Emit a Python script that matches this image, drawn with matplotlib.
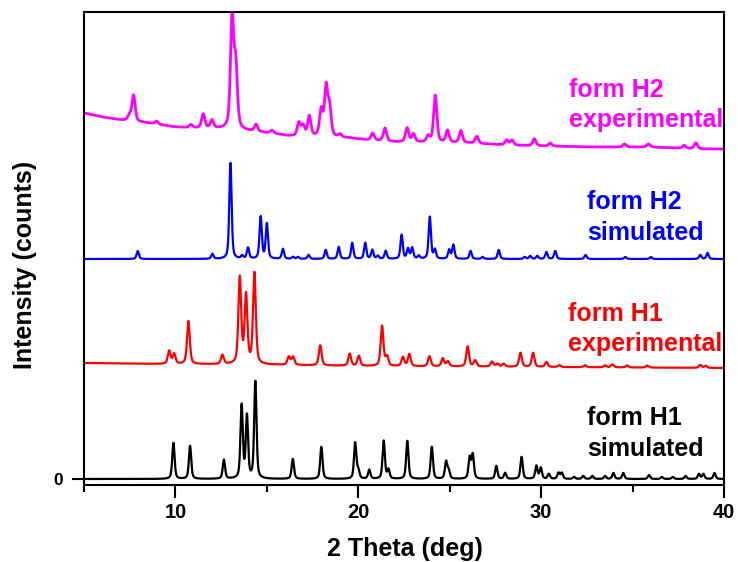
import numpy as np
import matplotlib.pyplot as plt
from matplotlib.ticker import MultipleLocator

plt.rcParams['font.family'] = ['Liberation Sans', 'DejaVu Sans']
plt.rcParams['font.weight'] = 'bold'

# peak lists: 2theta (deg) and height above the baseline
h1_sim_pos = [9.89, 10.80, 12.65, 13.62, 13.91, 14.37, 16.42, 17.98, 19.83, 20.00,
              20.60, 21.39, 21.65, 22.68, 24.02, 24.80, 24.94, 26.09, 26.26, 27.55,
              28.03, 28.93, 29.74, 29.98, 30.42, 30.95, 31.13, 31.80, 32.30, 32.80,
              33.50, 33.95, 34.49, 35.90, 36.60, 37.20, 37.90, 38.63, 38.87, 39.48]
h1_sim_int = [36, 33, 19, 73, 62, 97, 20, 32, 36, 8,
              9, 38, 9, 38, 32, 17, 8, 21, 24, 13,
              6, 22, 13, 11, 5, 6, 6, 2, 3, 3,
              3, 6, 6, 4, 2, 2, 3, 5, 5, 6]

h1_exp_pos = [9.66, 9.93, 10.71, 12.57, 13.52, 13.86, 14.32, 16.20, 16.43, 17.92,
              19.53, 20.03, 21.30, 21.57, 22.44, 22.79, 23.89, 24.62, 24.90, 25.98,
              26.39, 27.31, 27.61, 27.95, 28.87, 29.56, 30.29, 31.00, 32.40, 33.50,
              33.90, 34.70, 35.80, 38.70, 39.00]
h1_exp_int = [13, 10, 43, 9, 86, 68, 91, 8, 8, 20,
              12, 10, 40, 9, 9, 12, 10, 8, 5, 20,
              6, 5, 3, 3, 14, 14, 5, 2, 2, 2,
              3, 2, 2, 3, 2]
h1_exp_base_x = [5, 9, 14, 20, 30, 40]
h1_exp_base_y = [116, 115, 114.5, 113, 112, 111]

h2_sim_pos = [7.94, 12.02, 13.01, 13.65, 13.97, 14.66, 15.00, 15.88, 16.43, 16.70,
              17.28, 18.22, 18.93, 19.67, 20.38, 20.77, 21.07, 21.50, 22.37, 22.72,
              22.95, 23.31, 23.91, 24.19, 24.97, 25.20, 26.14, 26.80, 27.68, 29.10,
              29.40, 29.79, 30.29, 30.77, 32.43, 34.60, 36.00, 38.70, 39.10]
h2_sim_int = [8, 5, 96, 3, 11, 42, 35, 10, 2, 2,
              4, 9, 12, 16, 16, 9, 3, 8, 24, 10,
              11, 3, 42, 9, 9, 14, 8, 2, 9, 2,
              3, 3, 7, 8, 4, 2, 2, 4, 6]
h2_sim_offset = 220

h2_exp_pos = [7.48, 7.71, 8.97, 10.85, 11.52, 12.00, 13.10, 13.30, 14.41, 15.28,
              16.75, 16.98, 17.32, 17.97, 18.24, 18.43, 19.00, 20.79, 21.46, 22.67,
              23.02, 23.82, 24.21, 24.88, 25.61, 26.48, 28.11, 28.41, 29.63, 30.50,
              34.56, 35.87, 37.82, 38.46]
h2_exp_int = [5, 26, 3, 3, 14, 8, 110, 60, 7, 3,
              13, 10, 20, 26, 48, 28, 3, 7, 13, 14,
              8, 6, 47, 12, 12, 7, 5, 5, 7, 3,
              3, 3, 3, 6]
h2_exp_base_x = [5, 6, 7, 8.5, 10, 11, 12.8, 14, 15.5, 16.2, 19.5, 20.5, 22,
                 26, 28, 30, 33, 36, 38.7, 40]
h2_exp_base_y = [366, 362, 359, 356, 352, 351, 350, 348, 345, 343, 341, 339, 337,
                 336, 334, 333, 332, 332, 330, 330]


two_theta = np.arange(5.0, 40.0005, 0.005)


def pattern(pos, hgt, fwhm, eta=0.5):
    # pseudo-Voigt peaks on the 2theta grid
    y = np.zeros_like(two_theta)
    for p, h in zip(pos, hgt):
        d = (two_theta - p) / (fwhm / 2)
        y += h * (eta / (1 + d ** 2) + (1 - eta) * np.exp(-np.log(2) * d ** 2))
    return y


h1_sim = pattern(h1_sim_pos, h1_sim_int, 0.15)
h1_exp = pattern(h1_exp_pos, h1_exp_int, 0.18) + np.interp(two_theta, h1_exp_base_x, h1_exp_base_y)
h2_sim = pattern(h2_sim_pos, h2_sim_int, 0.15) + h2_sim_offset
h2_exp = pattern(h2_exp_pos, h2_exp_int, 0.21) + np.interp(two_theta, h2_exp_base_x, h2_exp_base_y)

fig = plt.figure(figsize=(7.38, 5.62), dpi=100)
ax = fig.add_axes([84 / 738, 1 - 484.5 / 562, 640 / 738, 472.5 / 562])

ax.plot(two_theta, h1_sim, color='black', lw=1.6)
ax.plot(two_theta, h1_exp, color='#ff0000', lw=1.6)
ax.plot(two_theta, h2_sim, color='#0000ff', lw=1.6)
ax.plot(two_theta, h2_exp, color='#ff00ff', lw=2.0)

labels = [
    (31.52, 382.3, 352.3, 'form H2', 'experimental', '#ff00ff'),
    (32.51, 270.0, 239.0, 'form H2', 'simulated', '#0000ff'),
    (31.47, 158.3, 128.3, 'form H1', 'experimental', '#ff0000'),
    (32.51, 54.0, 23.3, 'form H1', 'simulated', 'black'),
]
for x, y1, y2, line1, line2, col in labels:
    ax.text(x, y1, line1, color=col, fontsize=18, ha='left', va='baseline')
    ax.text(x, y2, line2, color=col, fontsize=18, ha='left', va='baseline')

ax.set_xlim(5, 40)
ax.set_ylim(-5.5, 467)
ax.set_xticks([10, 20, 30, 40])
ax.xaxis.set_minor_locator(MultipleLocator(5))
ax.set_yticks([0])
ax.set_yticklabels(['0'])

ax.tick_params(axis='x', which='major', direction='out', length=9, width=1.5,
               labelsize=14.5, pad=4)
ax.tick_params(axis='x', which='minor', direction='out', length=5, width=1.5)
ax.tick_params(axis='y', which='major', direction='out', length=9, width=1.5,
               labelsize=12.5, pad=6)
for sp in ax.spines.values():
    sp.set_linewidth(1.5)

ax.set_xlabel('2 Theta (deg)', fontsize=18, fontweight='bold', va='baseline')
ax.xaxis.set_label_coords(0.501, -0.1513)
ax.set_ylabel('Intensity (counts)', fontsize=18, fontweight='bold',
              va='baseline', rotation_mode='anchor')
ax.yaxis.set_label_coords(-0.0817, 0.4646)

fig.savefig('out.png', dpi=100)
